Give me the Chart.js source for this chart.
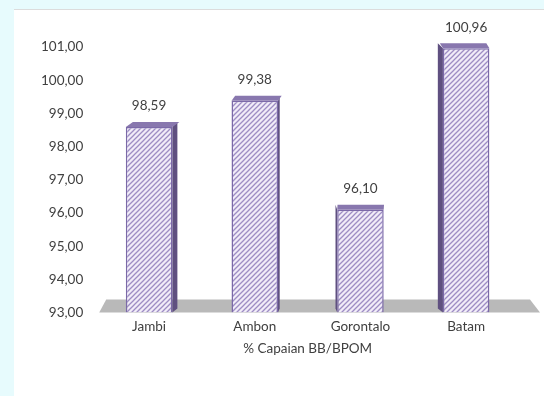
<!DOCTYPE html>
<html>
<head>
<meta charset="utf-8">
<script src="https://cdn.jsdelivr.net/npm/chart.js@4/dist/chart.umd.min.js"></script>
<style>
  html, body { margin: 0; padding: 0; background: #e7fbfd; }
  body { width: 544px; height: 396px; position: relative; overflow: hidden; }
  #wrap { position: absolute; left: 14px; top: 9px; width: 530px; height: 387px; background: #fff; border-top: 1px solid #dcdcdc; }
  canvas { display: block; }
</style>
</head>
<body>
<div id="wrap"><canvas id="chart" width="530" height="386"></canvas></div>
<script>
// Data
const cities = ['Jambi', 'Ambon', 'Gorontalo', 'Batam'];
const capaian = [98.59, 99.38, 96.10, 100.96];
const axisTitle = '% Capaian BB/BPOM';
const yMin = 93;
const yMax = 101;

const fontFamily = 'Lato, "Open Sans", sans-serif';
const fontSize = 13.5;
const textColor = '#404040';

function fmt(v) {
    return v.toFixed(2).replace('.', ',');
}

// diagonal hatch fill
function makeHatch() {
    const c = document.createElement('canvas');
    c.width = 5; c.height = 5;
    const g = c.getContext('2d');
    g.fillStyle = '#f1ecf8';
    g.fillRect(0, 0, 5, 5);
    g.strokeStyle = '#9d8cc4';
    g.lineWidth = 1.3;
    g.beginPath();
    g.moveTo(-1, 6); g.lineTo(6, -1);
    g.moveTo(-1, 1); g.lineTo(1, -1);
    g.moveTo(4, 6); g.lineTo(6, 4);
    g.stroke();
    return g.createPattern(c, 'repeat');
}

// gray floor behind the bars
const floorPlugin = {
    id: 'floor',
    beforeDatasetsDraw(chart) {
        const { ctx, chartArea: a } = chart;
        ctx.save();
        ctx.fillStyle = '#b9b9b9';
        ctx.beginPath();
        ctx.moveTo(a.left + 3, a.bottom);
        ctx.lineTo(a.left + 10, a.bottom - 13);
        ctx.lineTo(a.right + 11, a.bottom - 13);
        ctx.lineTo(a.right + 21, a.bottom);
        ctx.closePath();
        ctx.fill();
        ctx.restore();
    }
};

// fake 3D faces + value labels
const box3dPlugin = {
    id: 'box3d',
    beforeDatasetsDraw(chart) {
        const { ctx, chartArea: a } = chart;
        const mid = (a.left + a.right) / 2;
        const meta = chart.getDatasetMeta(0);
        ctx.save();
        meta.data.forEach(bar => {
            const l = bar.x - bar.width / 2, r = bar.x + bar.width / 2;
            const t = bar.y, b = bar.base;
            const d = (mid - bar.x) * 0.032;
            const up = 5;
            // side face
            ctx.fillStyle = '#5f5080';
            ctx.beginPath();
            if (d > 0) {
                ctx.moveTo(r, t); ctx.lineTo(r + d, t - up); ctx.lineTo(r + d, b - 4); ctx.lineTo(r, b);
            } else {
                ctx.moveTo(l, t); ctx.lineTo(l + d, t - up); ctx.lineTo(l + d, b - 4); ctx.lineTo(l, b);
            }
            ctx.closePath();
            ctx.fill();
            // top face
            ctx.fillStyle = '#8877ae';
            ctx.beginPath();
            ctx.moveTo(l, t); ctx.lineTo(l + d + 2, t - up); ctx.lineTo(r + d + 2, t - up); ctx.lineTo(r, t);
            ctx.closePath();
            ctx.fill();
        });
        ctx.restore();
    },
    afterDatasetsDraw(chart) {
        const { ctx } = chart;
        const meta = chart.getDatasetMeta(0);
        ctx.save();
        ctx.font = fontSize + 'px ' + fontFamily;
        ctx.fillStyle = textColor;
        ctx.textAlign = 'center';
        ctx.textBaseline = 'middle';
        meta.data.forEach((bar, i) => {
            ctx.fillText(fmt(capaian[i]), bar.x, bar.y - 21);
        });
        ctx.restore();
    }
};

new Chart(document.getElementById('chart'), {
    type: 'bar',
    data: {
        labels: cities,
        datasets: [{
            data: capaian,
            backgroundColor: makeHatch(),
            borderColor: '#7b69a8',
            borderWidth: 1.5,
            categoryPercentage: 1,
            barPercentage: 0.44,
            base: yMin
        }]
    },
    options: {
        responsive: false,
        animation: false,
        layout: { padding: { top: 37, left: 14, right: 25, bottom: 39 } },
        plugins: {
            legend: { display: false },
            tooltip: { enabled: false }
        },
        scales: {
            x: {
                grid: { display: false, drawTicks: false },
                border: { display: false },
                ticks: { color: textColor, font: { family: fontFamily, size: fontSize }, padding: 6 },
                title: {
                    display: true,
                    text: axisTitle,
                    color: textColor,
                    font: { family: fontFamily, size: fontSize },
                    padding: { top: 0, bottom: 0 }
                }
            },
            y: {
                min: yMin,
                max: yMax,
                grid: { display: false, drawTicks: false },
                border: { display: false },
                ticks: {
                    stepSize: 1,
                    color: textColor,
                    font: { family: fontFamily, size: fontSize },
                    padding: 13,
                    callback: v => fmt(v)
                }
            }
        }
    },
    plugins: [floorPlugin, box3dPlugin]
});
</script>
</body>
</html>
